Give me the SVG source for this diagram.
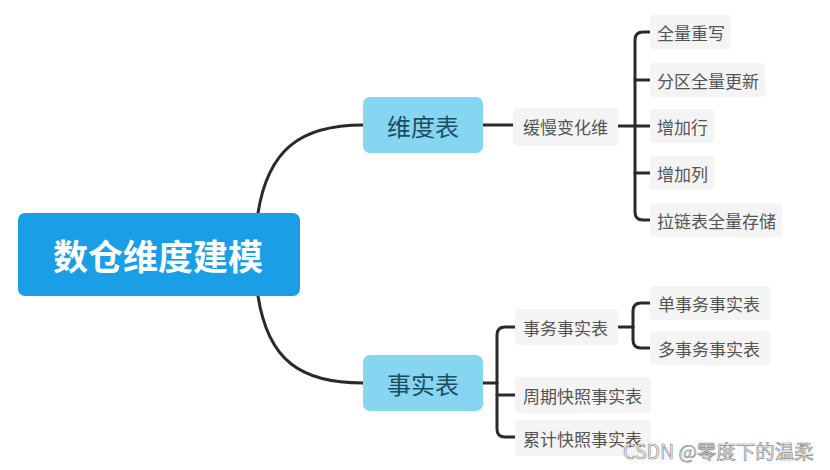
<svg xmlns="http://www.w3.org/2000/svg" width="830" height="470" viewBox="0 0 830 470">
<style>
.ln{fill:none;stroke:#2a2a2a;stroke-width:3;stroke-linecap:round;stroke-linejoin:round}
.lb{fill:#f4f4f4}
.lt{font-family:"Noto Sans CJK SC","Noto Sans",sans-serif;font-size:17px;fill:#555;dominant-baseline:central}
.mid{fill:#86d6f2}
.mt{font-family:"Noto Sans CJK SC","Noto Sans",sans-serif;font-size:24px;fill:#1d4d60;text-anchor:middle;dominant-baseline:central}
</style>
<rect width="830" height="470" fill="#fff"/>
<g id="connectors">
<path class="ln" d="M258 213 C268 150 300 125 363 125"/>
<path class="ln" d="M258 296 C268 360 300 383 363 383"/>
<path class="ln" d="M483 125 H513"/>
<path class="ln" d="M618 126 H650"/>
<path class="ln" d="M650 32 H643 Q635 32 635 40 V212 Q635 220 643 220 H650"/>
<path class="ln" d="M635 80 H650"/>
<path class="ln" d="M635 173 H650"/>
<path class="ln" d="M483 383 H497"/>
<path class="ln" d="M515 327 H505 Q497 327 497 335 V429 Q497 437 505 437 H515"/>
<path class="ln" d="M497 395 H515"/>
<path class="ln" d="M619 327 H633"/>
<path class="ln" d="M650 303 H641 Q633 303 633 311 V340 Q633 348 641 348 H650"/>
</g>
<g id="root">
<rect x="18" y="213" width="282" height="83" rx="7" fill="#1a9fe6"/>
<text x="158" y="254" font-family="'Noto Sans CJK SC','Noto Sans',sans-serif" font-size="35" font-weight="bold" fill="#fff" text-anchor="middle" dominant-baseline="central">数仓维度建模</text>
</g>
<g id="weidu">
<rect class="mid" x="363" y="97" width="120" height="56" rx="7"/>
<text class="mt" x="423" y="125">维度表</text>
</g>
<g id="shishi">
<rect class="mid" x="363" y="355" width="120" height="56" rx="7"/>
<text class="mt" x="423" y="383">事实表</text>
</g>
<g id="huanman">
<rect class="lb" x="513" y="108" width="105" height="38" rx="4"/>
<text class="lt" x="523" y="126">缓慢变化维</text>
</g>
<g id="quanliang">
<rect class="lb" x="650" y="15" width="81" height="34" rx="4"/>
<text class="lt" x="657" y="32">全量重写</text>
</g>
<g id="fenqu">
<rect class="lb" x="650" y="63" width="115" height="34" rx="4"/>
<text class="lt" x="657" y="80">分区全量更新</text>
</g>
<g id="zenghang">
<rect class="lb" x="650" y="109" width="64" height="34" rx="4"/>
<text class="lt" x="657" y="126">增加行</text>
</g>
<g id="zenglie">
<rect class="lb" x="650" y="156" width="64" height="34" rx="4"/>
<text class="lt" x="657" y="173">增加列</text>
</g>
<g id="lalian">
<rect class="lb" x="650" y="203" width="132" height="34" rx="4"/>
<text class="lt" x="657" y="220">拉链表全量存储</text>
</g>
<g id="shiwu">
<rect class="lb" x="515" y="309" width="103" height="36" rx="4"/>
<text class="lt" x="523" y="327">事务事实表</text>
</g>
<g id="zhouqi">
<rect class="lb" x="515" y="377" width="136" height="36" rx="4"/>
<text class="lt" x="523" y="395">周期快照事实表</text>
</g>
<g id="leiji">
<rect class="lb" x="515" y="420" width="136" height="36" rx="4"/>
<text class="lt" x="523" y="438">累计快照事实表</text>
</g>
<g id="danshiwu">
<rect class="lb" x="650" y="286" width="120" height="34" rx="4"/>
<text class="lt" x="658" y="303">单事务事实表</text>
</g>
<g id="duoshiwu">
<rect class="lb" x="650" y="331" width="120" height="34" rx="4"/>
<text class="lt" x="658" y="348">多事务事实表</text>
</g>
<text x="623" y="450" font-family="'Noto Sans CJK SC','Noto Sans',sans-serif" font-size="19.5" fill="#fff" stroke="#8a8a8a" stroke-width="0.7" dominant-baseline="central">CSDN @零度下的温柔</text>
</svg>
